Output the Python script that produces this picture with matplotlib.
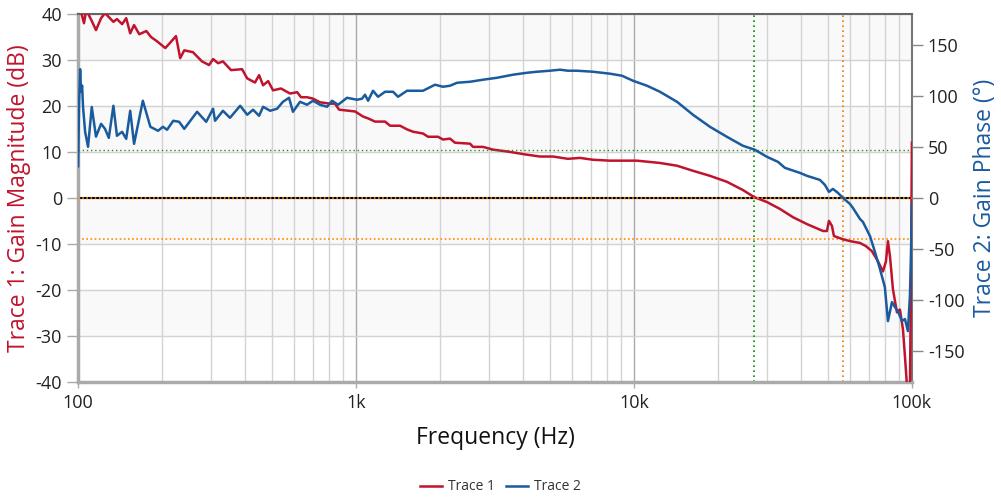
import matplotlib
matplotlib.use('Agg')
import matplotlib.pyplot as plt
from matplotlib.ticker import FixedLocator, NullFormatter

plt.rcParams['font.family'] = ['Open Sans', 'DejaVu Sans']
plt.rcParams['axes.unicode_minus'] = False

# Trace 1: gain magnitude (dB) vs frequency (Hz)
freq_t1 = [100, 101.7, 105, 107, 112, 116, 121, 125, 134, 138, 144, 149, 154, 159,
           166, 176, 183, 192, 206, 214, 225, 233, 241, 259, 279, 296, 306, 319, 332,
           355, 389, 406, 433, 448, 463, 483, 503, 537, 579, 614, 634, 666, 700, 742,
           806, 840, 869, 928, 992, 1060, 1105, 1170, 1272, 1326, 1440, 1526, 1603,
           1742, 1816, 1972, 2056, 2178, 2271, 2571, 2636, 2863, 3111, 3494, 4122,
           4591, 5111, 5789, 6394, 7122, 8197, 10250, 12400, 14280, 16300, 18770,
           21600, 24670, 27020, 30090, 33510, 37330, 41910, 47860, 49470, 50290,
           51560, 52420, 56480, 59840, 65020, 68340, 71820, 75480, 78680, 80650,
           82000, 83370, 85470, 88330, 90560, 92850, 94400, 95940, 98350, 99170, 100000]
gain_db = [43.0, 41.3, 38.0, 40.9, 38.5, 36.5, 39.1, 40.2, 38.3, 38.9, 37.8, 39.1, 35.8,
           37.6, 35.6, 36.3, 35.0, 34.1, 32.6, 33.7, 35.2, 30.4, 32.1, 31.7, 29.7, 28.9,
           30.2, 29.3, 29.7, 27.8, 28.0, 26.0, 25.1, 26.7, 24.5, 25.4, 23.4, 23.8, 22.7,
           23.0, 21.9, 21.9, 21.6, 20.8, 20.5, 20.5, 19.2, 19.0, 18.8, 17.7, 17.3, 16.6,
           16.6, 15.7, 15.7, 14.9, 14.4, 14.0, 13.3, 13.3, 12.7, 12.9, 12.0, 11.8, 11.1,
           11.1, 10.5, 10.1, 9.4, 9.0, 9.0, 8.5, 8.7, 8.3, 8.1, 8.1, 7.6, 7.0, 5.9, 4.8,
           3.5, 1.7, 0.2, -0.9, -2.4, -4.2, -5.7, -7.2, -7.2, -5.0, -6.1, -8.3, -9.0,
           -9.4, -9.8, -10.5, -11.6, -13.8, -16.0, -13.8, -9.4, -12.7, -19.9, -24.9,
           -24.3, -28.6, -34.5, -40.7, -41.7, -20.0, 12.0]

# Trace 2: gain phase (deg) vs frequency (Hz)
freq_t2 = [100, 100.8, 101.7, 102.5, 103.4, 104.2, 106, 108.6, 112, 116, 121, 125, 129,
           134, 138, 144, 149, 154, 159, 171, 182, 194, 202, 209, 220, 231, 241, 268,
           289, 306, 311, 332, 352, 383, 406, 426, 448, 463, 491, 520, 546, 574, 593,
           629, 666, 700, 742, 787, 820, 862, 928, 1008, 1051, 1077, 1105, 1151, 1200,
           1272, 1359, 1416, 1526, 1742, 1924, 2056, 2178, 2309, 2571, 2863, 3216, 3671,
           4122, 4478, 4987, 5417, 5789, 6237, 7122, 8197, 9054, 9917, 11140, 12400,
           14280, 16300, 18770, 21600, 24670, 27240, 30090, 32960, 34930, 39550, 41910,
           46680, 48650, 50290, 51980, 54180, 56480, 59840, 61340, 65020, 66640, 70640,
           73630, 76740, 79910, 82000, 84770, 86890, 89030, 92040, 94400, 96740, 98350,
           99170, 100000]
phase_deg = [31, 90, 126, 104, 110, 89, 64.7, 50, 89, 60, 72.5, 67.6, 58.8, 90.2, 60.8,
             64.7, 57.8, 85.3, 52.9, 95.1, 69.6, 65.7, 69.6, 66.7, 75.5, 74.5, 67.6, 84.3,
             74.5, 87.3, 75.5, 85.3, 78.4, 90.2, 81.4, 86.3, 80.4, 89.2, 85.3, 87.3, 94.1,
             98.0, 84.3, 94.1, 91.2, 95.1, 91.2, 89.2, 95.1, 91.2, 98.0, 96.1, 97.1, 101.0,
             95.1, 104.9, 99.0, 103.9, 103.9, 99.0, 104.9, 104.9, 110.8, 108.8, 109.8,
             112.7, 113.7, 115.7, 117.6, 120.6, 122.5, 123.5, 124.5, 125.5, 124.5, 124.5,
             123.5, 121.6, 119.6, 114.7, 109.8, 103.9, 94.1, 81.4, 69.6, 59.8, 51.0, 47.1,
             40.2, 35.3, 29.4, 24.5, 21.6, 17.6, 12.7, 5.9, 8.8, 4.9, 0.0, -5.9, -9.8,
             -20.6, -23.5, -37.3, -52.9, -69.6, -87.3, -120.6, -102.0, -106.9, -110.8,
             -120.6, -118.6, -130.4, -96.1, -61.8, -5.9]

# margin markers
crossover_hz = 27020
phase_margin_deg = 47
phase_cross_hz = 56480
gain_margin_db = -9.0

red = '#c0142e'
blue = '#1a5b9e'

fig = plt.figure(figsize=(10.01, 5.01), dpi=100)
ax = fig.add_axes([0.078, 0.238, 0.833, 0.734])
ax2 = ax.twinx()

ax.set_xscale('log')
ax.set_xlim(100, 100000)
ax.set_ylim(-40, 40)
ax2.set_ylim(-180, 180)

# alternating bands
for lo in [30, 10, -10, -30]:
    ax.axhspan(lo, lo + 10, color='#f9f9f9', zorder=0)

ax.xaxis.set_major_locator(FixedLocator([100, 1000, 10000, 100000]))
ax.set_xticklabels(['100', '1k', '10k', '100k'])
minors = [m * d for d in [100, 1000, 10000] for m in range(2, 10)]
ax.xaxis.set_minor_locator(FixedLocator(minors))
ax.xaxis.set_minor_formatter(NullFormatter())
ax.grid(True, which='minor', axis='x', color='#d3d3d3', lw=1, zorder=1)
ax.grid(True, which='major', axis='x', color='#aaaaaa', lw=1, zorder=1)
ax.grid(True, which='major', axis='y', color='#d3d3d3', lw=1, zorder=1)
ax.set_axisbelow(True)

ax.set_yticks(range(-40, 41, 10))
ax2.set_yticks([-150, -100, -50, 0, 50, 100, 150])

ax.tick_params(axis='y', which='major', length=8, width=1, color='#aaaaaa',
               labelsize=13, labelcolor='#222222')
ax.tick_params(axis='x', which='major', length=4, width=1, color='#aaaaaa',
               labelsize=13, labelcolor='#222222', pad=5)
ax.tick_params(axis='x', which='minor', length=0)
ax2.tick_params(axis='y', length=8, width=1, color='#888888',
                labelsize=13, labelcolor='#222222')

for s in ['left', 'bottom']:
    ax.spines[s].set_color('#aaaaaa')
    ax.spines[s].set_linewidth(2.5)
ax.spines['top'].set_color('#666666')
ax.spines['top'].set_linewidth(1.5)
ax.spines['right'].set_color('#777777')
ax.spines['right'].set_linewidth(1.5)
for s in ax2.spines.values():
    s.set_visible(False)

# reference lines
ax.axhline(0, color='black', lw=1.5, zorder=2)
ax2.axhline(0, color='#ff8c00', lw=1.2, ls=(0, (1, 1.5)), zorder=2)
ax.axhline(gain_margin_db, color='#ff8c00', lw=1.2, ls=(0, (1, 1.5)), zorder=2)
ax2.axhline(phase_margin_deg, color='#2a8a2a', lw=1.0, ls=(0, (1, 2)), zorder=2)
ax.axvline(crossover_hz, color='#009000', lw=1.2, ls=(0, (1, 2)), zorder=2)
ax.axvline(phase_cross_hz, color='#f07800', lw=1.2, ls=(0, (1, 2)), zorder=2)

l1, = ax.plot(freq_t1, gain_db, color=red, lw=1.8, label='Trace 1', zorder=3)
l2, = ax2.plot(freq_t2, phase_deg, color=blue, lw=1.8, label='Trace 2', zorder=3)

ax.set_ylabel('Trace 1: Gain Magnitude (dB)', color=red, fontsize=16.5, labelpad=3)
ax2.set_ylabel('Trace 2: Gain Phase (°)', color=blue, fontsize=16.5, labelpad=6)
ax.set_xlabel('Frequency (Hz)', fontsize=16.5, color='#111111', labelpad=10)

fig.legend(handles=[l1, l2], loc='center', bbox_to_anchor=(0.5, 0.028), ncol=2,
           frameon=False, fontsize=10, handlelength=1.6, columnspacing=0.8,
           handletextpad=0.4, labelcolor='#333333')

fig.savefig('out.png', dpi=100)
